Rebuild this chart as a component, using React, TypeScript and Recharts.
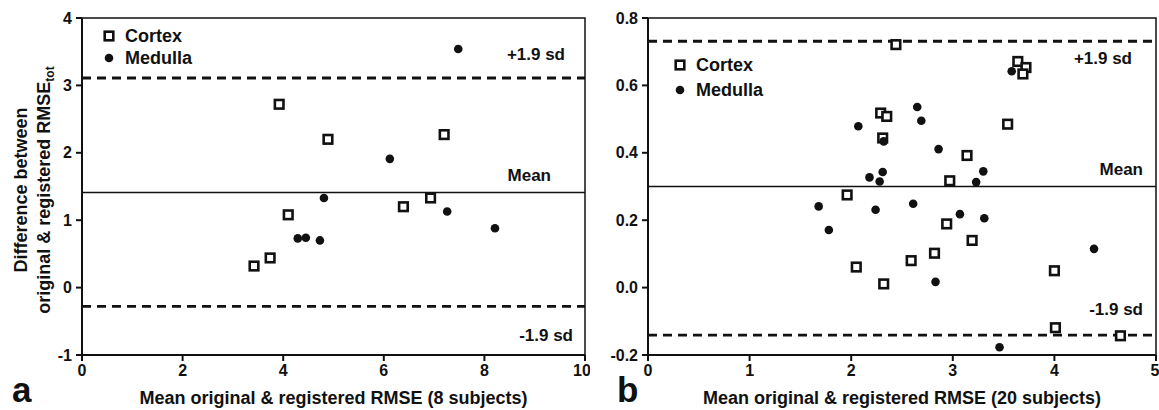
import React from "react";
import {
  ReferenceArea,
  ReferenceLine,
  Scatter,
  ScatterChart,
  XAxis,
  YAxis,
} from "recharts";

const FONT = "'Liberation Sans', Arial, Helvetica, sans-serif";

// panel a (8 subjects)
const aCortexX = [3.92, 4.89, 7.2, 4.1, 6.39, 6.93, 3.42, 3.74];
const aCortexY = [2.72, 2.2, 2.27, 1.08, 1.2, 1.33, 0.32, 0.44];
const aMedullaX = [7.48, 6.12, 4.81, 7.26, 8.21, 4.29, 4.45, 4.73];
const aMedullaY = [3.54, 1.91, 1.33, 1.13, 0.88, 0.73, 0.74, 0.7];
const aLimits = [3.11, 1.41, -0.28]; // +1.9 sd, mean, -1.9 sd
const aXTicks = [0, 2, 4, 6, 8, 10];
const aYTicks = [-1, 0, 1, 2, 3, 4];

// panel b (20 subjects)
const bCortexX = [
  2.44, 3.64, 3.72, 3.69, 2.29, 2.35, 2.31, 3.54, 3.14, 2.97,
  1.96, 2.94, 3.19, 2.82, 2.59, 2.05, 2.32, 4.0, 4.01, 4.65,
];
const bCortexY = [
  0.721, 0.671, 0.653, 0.634, 0.518, 0.508, 0.444, 0.485, 0.392, 0.317,
  0.275, 0.189, 0.14, 0.102, 0.08, 0.061, 0.011, 0.05, -0.119, -0.143,
];
const bMedullaX = [
  3.58, 2.65, 2.69, 2.07, 2.32, 2.86, 3.3, 2.31, 2.18, 2.28,
  3.23, 1.68, 2.61, 2.24, 3.07, 3.31, 1.78, 4.39, 2.83, 3.46,
];
const bMedullaY = [
  0.642, 0.536, 0.495, 0.479, 0.434, 0.411, 0.345, 0.343, 0.327, 0.315,
  0.313, 0.241, 0.249, 0.231, 0.218, 0.206, 0.171, 0.115, 0.017, -0.177,
];
const bLimits = [0.731, 0.3, -0.141];
const bXTicks = [0, 1, 2, 3, 4, 5];
const bYTicks = [-0.2, 0, 0.2, 0.4, 0.6, 0.8];

const limitNames = ["+1.9 sd", "Mean", "-1.9 sd"];

const toPoints = (xs: number[], ys: number[]) =>
  xs.map((x, i) => ({ x, y: ys[i] }));

const textStyle = {
  fontFamily: FONT,
  fontWeight: 700,
  fill: "#111",
};

const SquareMark = (p: any) => (
  <rect
    x={p.cx - 4.3}
    y={p.cy - 4.3}
    width={8.6}
    height={8.6}
    fill="#fff"
    stroke="#111"
    strokeWidth={2.6}
  />
);

const DotMark = (p: any) => <circle cx={p.cx} cy={p.cy} r={4.3} fill="#111" />;

function LineTag({ viewBox, text, right, dy }: any) {
  if (!viewBox) return null;
  return (
    <text
      x={viewBox.x + viewBox.width - right}
      y={viewBox.y + dy}
      textAnchor="end"
      fontSize={17}
      {...textStyle}
    >
      {text}
    </text>
  );
}

function XTitle({ viewBox, text, letter, letterX }: any) {
  if (!viewBox) return null;
  return (
    <g>
      <text
        x={viewBox.x + viewBox.width / 2}
        y={viewBox.y + 49}
        textAnchor="middle"
        fontSize={18}
        {...textStyle}
      >
        {text}
      </text>
      <text x={letterX} y={viewBox.y + 47} fontSize={35} {...textStyle}>
        {letter}
      </text>
    </g>
  );
}

function YTitle() {
  return (
    <g transform="translate(0,190)">
      <text transform="translate(27,0) rotate(-90)" textAnchor="middle" fontSize={18} {...textStyle}>
        Difference between
      </text>
      <text transform="translate(50,0) rotate(-90)" textAnchor="middle" fontSize={18} {...textStyle}>
        original &amp; registered RMSE
        <tspan dy={4} fontSize={12}>
          tot
        </tspan>
      </text>
    </g>
  );
}

function Legend({ left, top, gap }: { left: number; top: number; gap: number }) {
  const row = (icon: React.ReactNode, label: string, y: number) => (
    <div
      style={{
        position: "absolute",
        left: 0,
        top: y,
        display: "flex",
        alignItems: "center",
        height: 20,
      }}
    >
      <svg width={20} height={20} style={{ marginRight: 6 }}>
        {icon}
      </svg>
      <span style={{ fontFamily: FONT, fontWeight: 700, fontSize: 18, color: "#111" }}>
        {label}
      </span>
    </div>
  );
  return (
    <div style={{ position: "absolute", left, top, width: 130, height: 60 }}>
      {row(<SquareMark cx={10} cy={10} />, "Cortex", 0)}
      {row(<DotMark cx={10} cy={10} />, "Medulla", gap)}
    </div>
  );
}

interface PanelProps {
  width: number;
  margin: { top: number; right: number; left: number; bottom: number };
  yWidth: number;
  xDomain: [number, number];
  yDomain: [number, number];
  xTicks: number[];
  yTicks: number[];
  yFormat: (v: number) => string;
  cortex: { x: number; y: number }[];
  medulla: { x: number; y: number }[];
  limits: number[];
  tagRight: number[];
  tagDy: number[];
  title: string;
  letter: string;
  letterX: number;
  yTitle?: boolean;
}

function Panel(p: PanelProps) {
  const tick = { ...textStyle, fontSize: 16 };
  return (
    <ScatterChart width={p.width} height={410} margin={p.margin}>
      <XAxis
        type="number"
        dataKey="x"
        domain={p.xDomain}
        ticks={p.xTicks}
        allowDataOverflow
        height={30}
        tick={tick}
        tickSize={6}
        tickMargin={4}
        tickLine={{ stroke: "#111", strokeWidth: 2 }}
        axisLine={{ stroke: "#111", strokeWidth: 2 }}
        label={<XTitle text={p.title} letter={p.letter} letterX={p.letterX} />}
      />
      <YAxis
        type="number"
        dataKey="y"
        domain={p.yDomain}
        ticks={p.yTicks}
        allowDataOverflow
        width={p.yWidth}
        tick={tick}
        tickFormatter={p.yFormat}
        tickSize={6}
        tickMargin={4}
        tickLine={{ stroke: "#111", strokeWidth: 2 }}
        axisLine={{ stroke: "#111", strokeWidth: 2 }}
        label={p.yTitle ? <YTitle /> : undefined}
      />
      <ReferenceArea
        x1={p.xDomain[0]}
        x2={p.xDomain[1]}
        y1={p.yDomain[0]}
        y2={p.yDomain[1]}
        fill="none"
        fillOpacity={0}
        stroke="#111"
        strokeWidth={1.5}
      />
      <Scatter data={p.cortex} shape={SquareMark} isAnimationActive={false} />
      <Scatter data={p.medulla} shape={DotMark} isAnimationActive={false} />
      {p.limits.map((v, i) => (
        <ReferenceLine
          key={i}
          y={v}
          stroke="#111"
          strokeWidth={i === 1 ? 1.5 : 2.8}
          strokeDasharray={i === 1 ? undefined : "9 6"}
          label={<LineTag text={limitNames[i]} right={p.tagRight[i]} dy={p.tagDy[i]} />}
        />
      ))}
    </ScatterChart>
  );
}

export default function App() {
  return (
    <div style={{ position: "absolute", left: 0, top: 0, width: 1159, height: 410, background: "#fff" }}>
      <div style={{ position: "absolute", left: 0, top: 0, width: 590, height: 410 }}>
        <Panel
          width={590}
          margin={{ top: 18, right: 5, left: 8, bottom: 25 }}
          yWidth={74}
          xDomain={[0, 10]}
          yDomain={[-1, 4]}
          xTicks={aXTicks}
          yTicks={aYTicks}
          yFormat={(v) => String(v)}
          cortex={toPoints(aCortexX, aCortexY)}
          medulla={toPoints(aMedullaX, aMedullaY)}
          limits={aLimits}
          tagRight={[20, 34, 12]}
          tagDy={[-18, -12, 35]}
          title="Mean original & registered RMSE (8 subjects)"
          letter="a"
          letterX={12}
          yTitle
        />
        <Legend left={99} top={26} gap={22} />
      </div>
      <div style={{ position: "absolute", left: 590, top: 0, width: 569, height: 410 }}>
        <Panel
          width={569}
          margin={{ top: 18, right: 3, left: 0, bottom: 25 }}
          yWidth={58}
          xDomain={[0, 5]}
          yDomain={[-0.2, 0.8]}
          xTicks={bXTicks}
          yTicks={bYTicks}
          yFormat={(v) => v.toFixed(1)}
          cortex={toPoints(bCortexX, bCortexY)}
          medulla={toPoints(bMedullaX, bMedullaY)}
          limits={bLimits}
          tagRight={[24, 13, 13]}
          tagDy={[23, -12, -20]}
          title="Mean original & registered RMSE (20 subjects)"
          letter="b"
          letterX={27}
        />
        <Legend left={80} top={55} gap={25} />
      </div>
    </div>
  );
}
